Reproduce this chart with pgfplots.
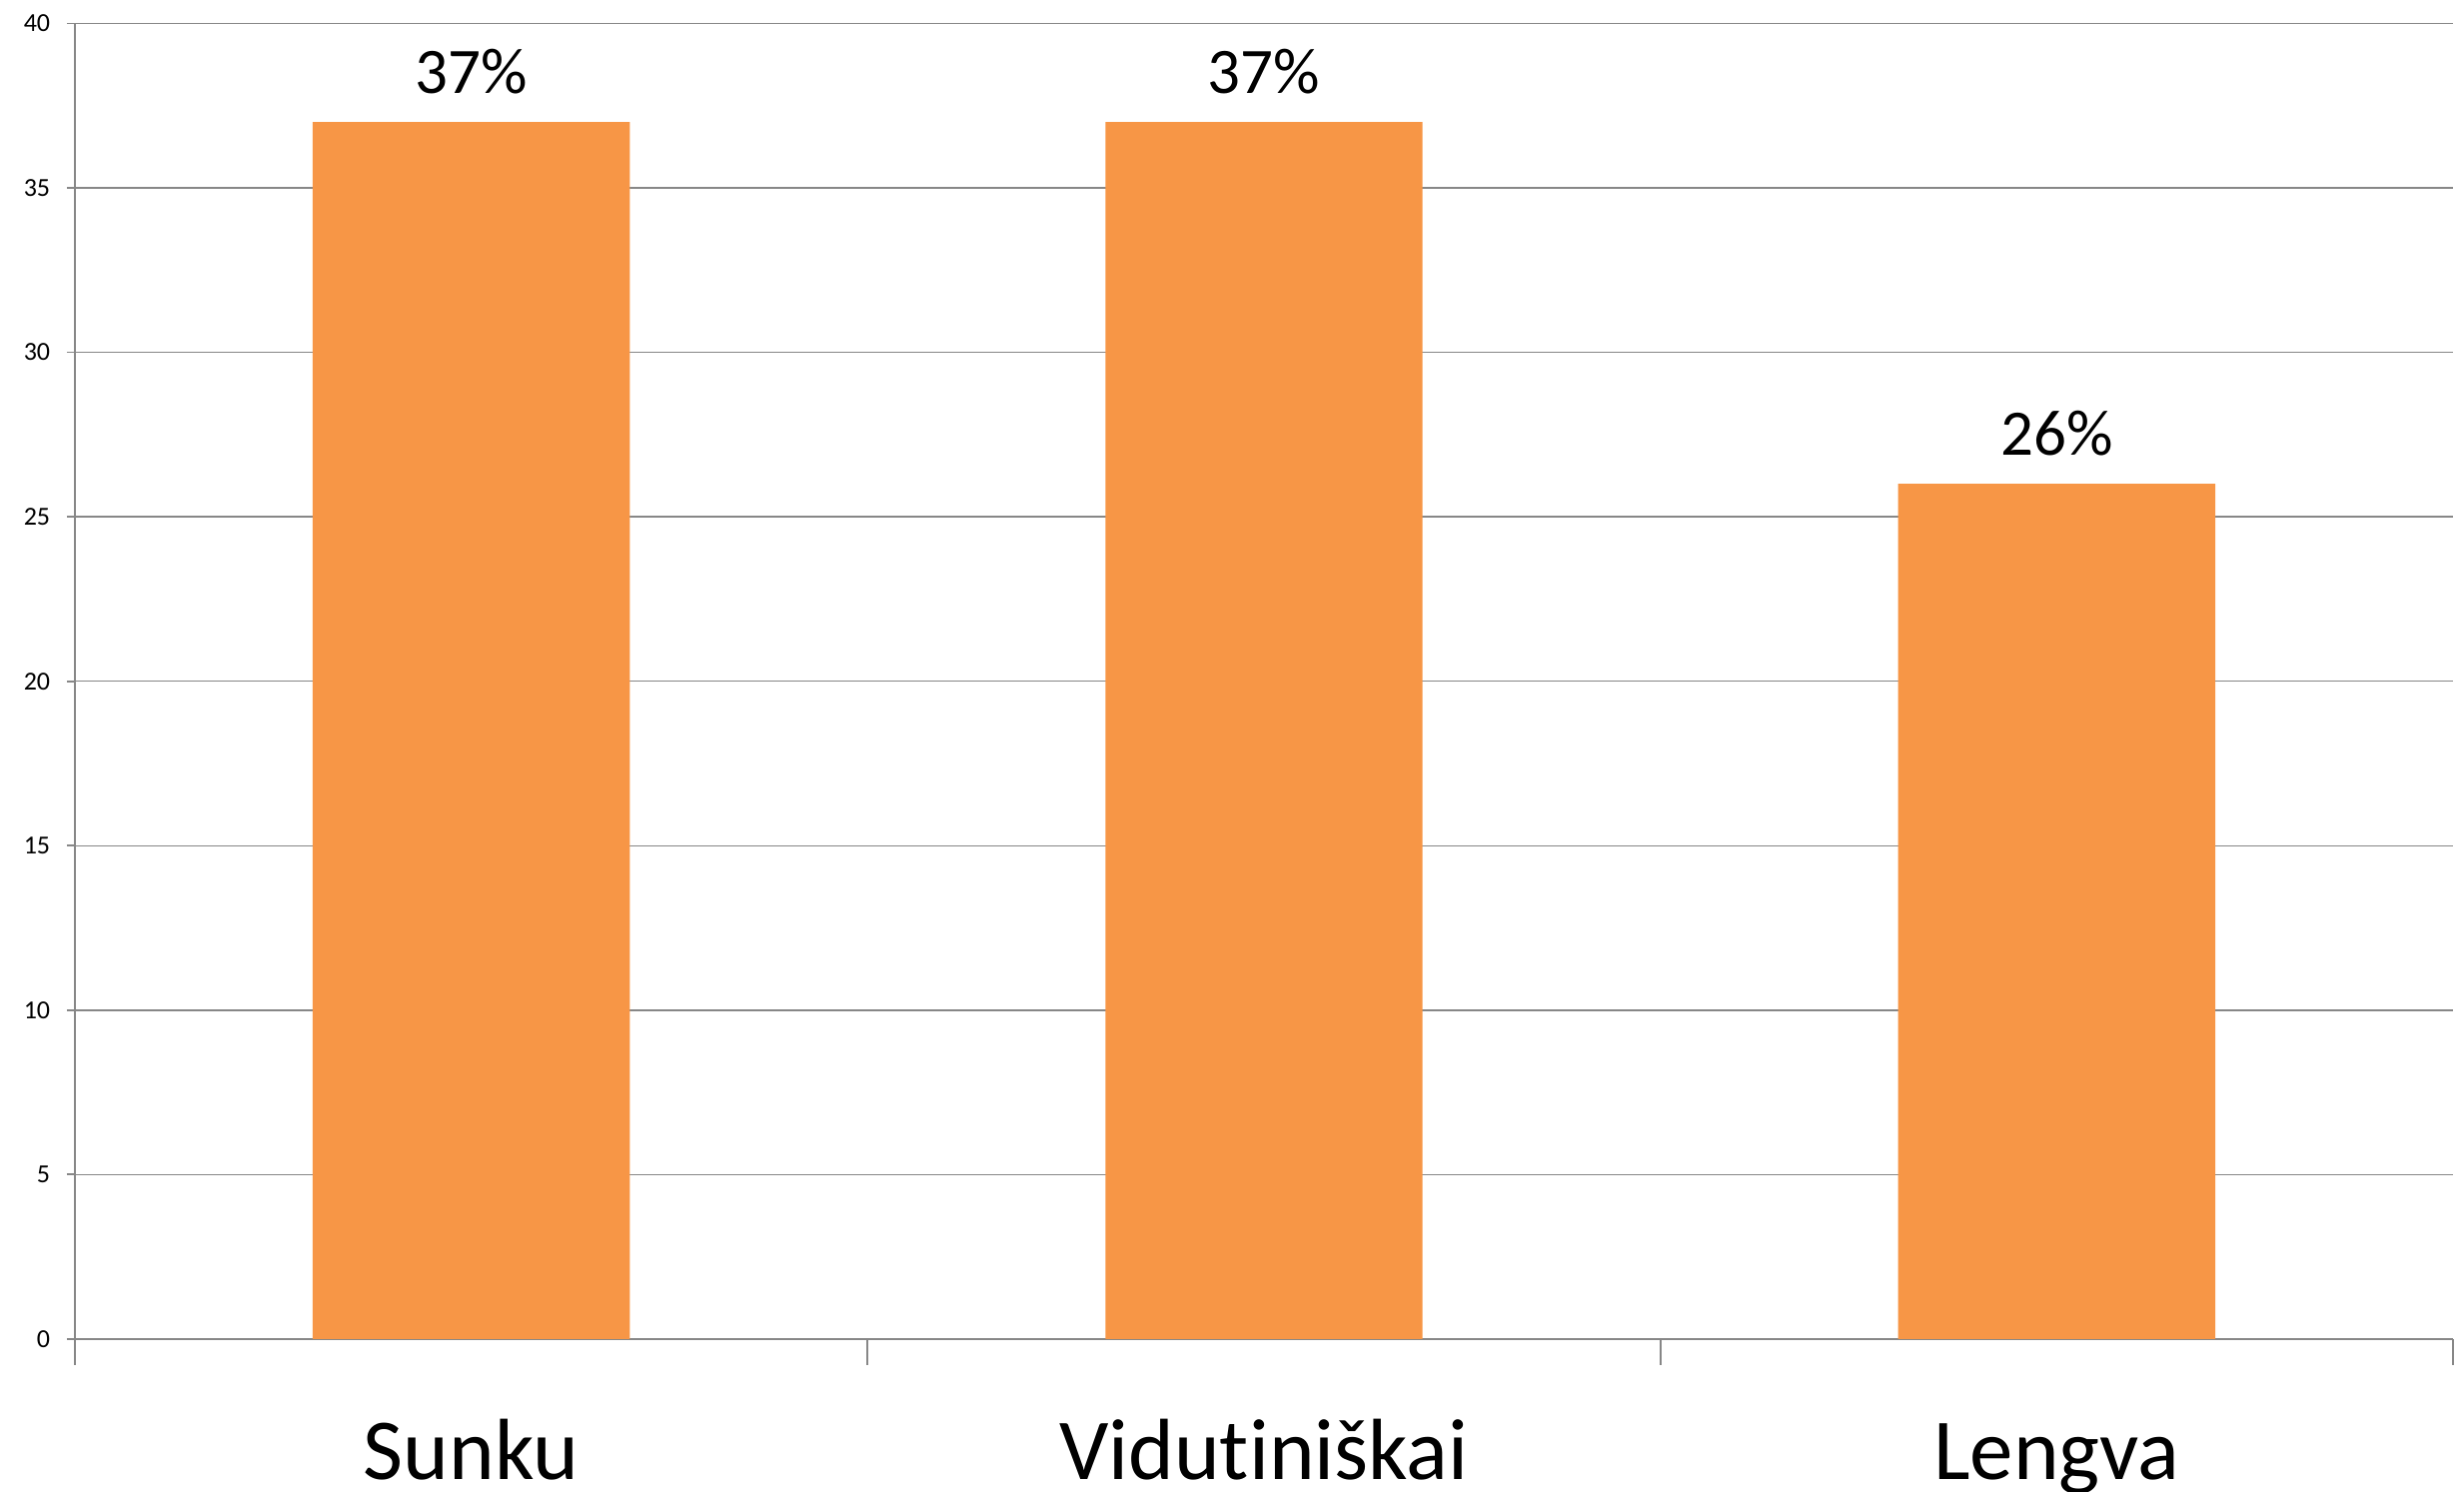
\documentclass[border=0pt]{standalone}
\usepackage{fontspec}
\setmainfont{Carlito}[Ligatures=NoCommon]
\usepackage{pgfplots}
\pgfplotsset{compat=1.18}
\definecolor{barorange}{HTML}{F79646}
\definecolor{gridgray}{HTML}{878787}
\begin{document}
\begin{tikzpicture}
\begin{axis}[
  at={(0,0)}, anchor=south west,
  scale only axis,
  width=476.2pt, height=263.4pt,
  xmin=-0.5, xmax=2.5, ymin=0, ymax=40,
  axis x line=bottom, axis y line=left,
  axis line style={-, draw=gridgray, line width=0.35pt},
  xtick={-0.5,0.5,1.5,2.5},
  x tick label as interval,
  xticklabels={Sunku,Vidutiniškai,Lengva},
  ytick={0,5,...,40},
  tick align=outside,
  xtick style={draw=gridgray, line width=0.35pt, /pgfplots/major tick length=5.2pt},
  ytick style={draw=gridgray, line width=0.35pt, /pgfplots/major tick length=1.6pt},
  ymajorgrids,
  major grid style={draw=gridgray, line width=0.3pt},
  /pgf/number format/assume math mode=true,
  yticklabel style={font=\fontsize{5.2}{6}\selectfont, anchor=east, inner sep=0pt, xshift=-0.5pt},
  xticklabel style={font=\fontsize{17.4}{20}\selectfont, anchor=base, inner sep=0pt, yshift=-23.9pt},
  ybar, bar width=0.4, bar shift=0pt,
  nodes near coords={\pgfmathprintnumber{\pgfplotspointmeta}\%},
  every node near coord/.append style={font=\fontsize{13}{15}\selectfont, anchor=base, inner sep=0pt, yshift=5.8pt, text=black},
  clip=false,
]
\addplot[fill=barorange, draw=none] coordinates {(0,37) (1,37) (2,26)};
\end{axis}
\pgfresetboundingbox
\path (-15pt,-30.6pt) rectangle (478.4pt,268.1pt);
\end{tikzpicture}
\end{document}
